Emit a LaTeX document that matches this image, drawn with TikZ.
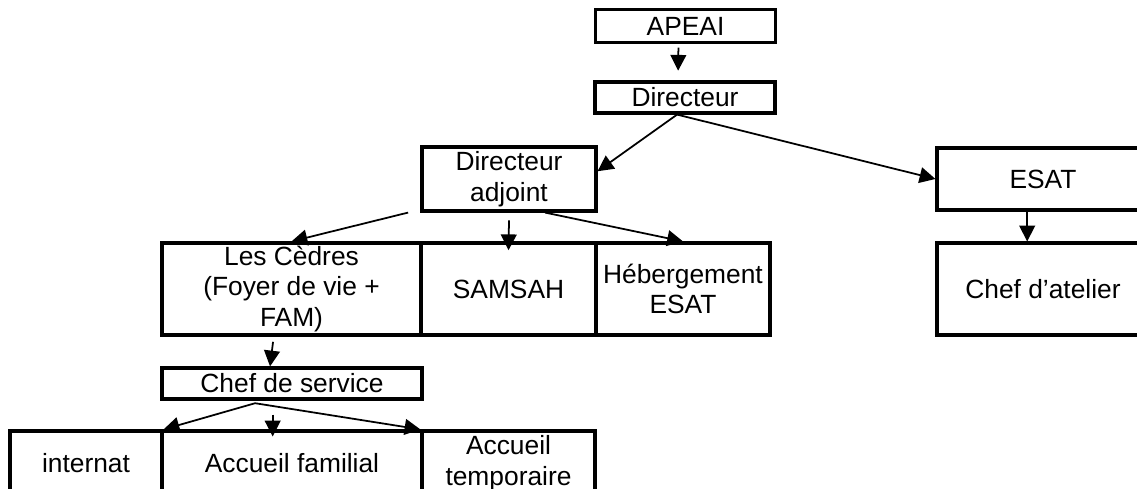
\documentclass[tikz,border=0pt]{standalone}
\usepackage{fontspec}
\setmainfont{Liberation Sans}
\usepackage{tikz}
\usetikzlibrary{arrows.meta}
\tikzset{
    orgbox/.style={draw, line width=1.8pt, inner sep=0pt, align=center, font=\fontsize{15}{17.5}\selectfont},
    link/.style={-{Triangle[length=9pt, width=9pt]}, line width=1pt}
}

\begin{document}
\begin{tikzpicture}[x=0.02cm, y=-0.02cm]
        \useasboundingbox (0,0) rectangle (1137,489);
        \clip (0,0) rectangle (1137,489);

        \node[orgbox, minimum width=3.6cm, minimum height=0.66cm] at (685.5,26) (apeai) {APEAI};
        \node[orgbox, minimum width=3.6cm, minimum height=0.62cm] at (685,97.5) (dir) {Directeur};
        \node[orgbox, minimum width=3.48cm, minimum height=1.28cm] at (509,179) (adj) {Directeur\\adjoint};
        \node[orgbox, minimum width=4.24cm, minimum height=1.24cm] at (1043,179) (esat) {ESAT};
        \node[orgbox, minimum width=4.24cm, minimum height=1.84cm] at (1043,289) (atelier) {Chef d’atelier};

        \node[orgbox, minimum width=5.18cm, minimum height=1.84cm] at (291.5,289) (cedres) {Les Cèdres\\(Foyer de vie +\\FAM)};
        \node[orgbox, minimum width=3.5cm, minimum height=1.84cm] at (508.5,289) (samsah) {SAMSAH};
        \node[orgbox, minimum width=3.48cm, minimum height=1.84cm] at (683,289) (heberg) {Hébergement\\ESAT};

        \node[orgbox, minimum width=5.2cm, minimum height=0.62cm] at (292,383.5) (chef) {Chef de service};
        \node[orgbox, minimum width=3.04cm, minimum height=1.28cm] at (86,463) (internat) {internat};
        \node[orgbox, minimum width=5.2cm, minimum height=1.28cm] at (292,463) (familial) {Accueil familial};
        \node[orgbox, minimum width=3.46cm, minimum height=1.28cm] at (508.5,463) (temp) {Accueil\\temporaire};

        \draw [link, shorten <=2pt, shorten >=5.5pt] ([xshift=-4pt]apeai.south) -- ([xshift=-4pt]dir.north);
        \draw [link] ([xshift=-4.5pt]dir.south) -- (adj.5);
        \draw [link] ([xshift=-4.5pt]dir.south) -- (esat.west);
        \draw [link] ([xshift=-7pt]adj.south west) -- (cedres.north);
        \draw [link] ([yshift=-4.5pt]adj.south) -- ([yshift=-5pt]samsah.north);
        \draw [link] (adj.-43) -- (heberg.north);
        \draw [link] ([xshift=-9pt]esat.south) -- ([xshift=-9pt]atelier.north);

        \draw [link] ([xshift=-10.5pt, yshift=-3pt]cedres.south) -- ([xshift=-12.5pt]chef.north);
        \draw [link] ([xshift=-21pt, yshift=-1.5pt]chef.south) -- (internat.north east);
        \draw [link] ([xshift=-11pt, yshift=-8pt]chef.south) -- ([xshift=-11pt, yshift=-4pt]familial.north);
        \draw [link] ([xshift=-21pt, yshift=-1.5pt]chef.south) -- (temp.north west);
\end{tikzpicture}
\end{document}
